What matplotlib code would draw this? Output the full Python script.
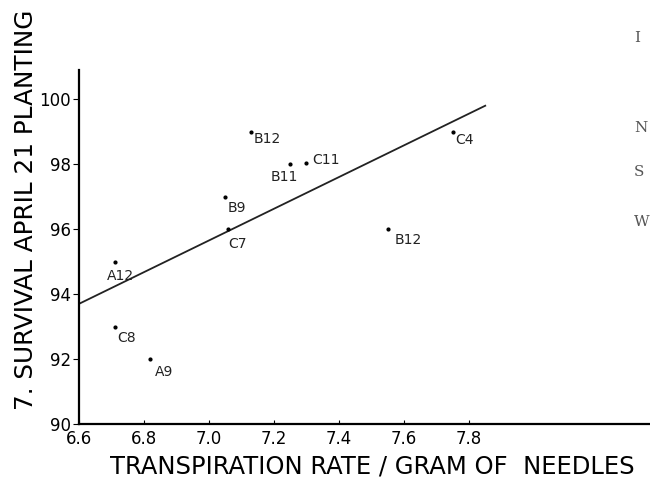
import matplotlib
import matplotlib.pyplot as plt

matplotlib.use("Agg")

# transpiration rate vs. survival, one point per lot
lots = ["B12", "B11", "C11", "B9", "C7", "A12", "C8", "A9", "C4", "B12"]
rate = [7.13, 7.25, 7.30, 7.05, 7.06, 6.71, 6.71, 6.82, 7.75, 7.55]
survival = [99.0, 98.0, 98.05, 97.0, 96.0, 95.0, 93.0, 92.0, 99.0, 96.0]

# fitted line, end points
line_rate = [6.6, 7.85]
line_survival = [93.7, 99.8]

x_ticks = [6.6, 6.8, 7.0, 7.2, 7.4, 7.6, 7.8]
y_ticks = [90, 92, 94, 96, 98, 100]

# label offsets (points) per lot, same order as above
offsets = [(2, -5), (-14, -9), (4, 2), (2, -8), (0, -11), (-6, -10),
           (2, -8), (3, -9), (2, -6), (5, -8)]

fig = plt.figure(figsize=(6.5, 4.78), dpi=100)
ax = fig.add_axes([79 / 650, 54 / 478, 571 / 650, 354 / 478])

ax.plot(line_rate, line_survival, color="#222222", lw=1.3)
ax.scatter(rate, survival, s=4, color="black", zorder=3)
for name, x, y, off in zip(lots, rate, survival, offsets):
    ax.annotate(name, (x, y), xytext=off, textcoords="offset points",
                fontsize=10, color="#222222", va="center")

ax.set_xlim(6.6, 8.357)
ax.set_ylim(90, 100.9)
ax.set_xticks(x_ticks)
ax.set_xticklabels(["6.6", "6.8", "7.0", "7.2", "7.4", "7.6", "7.8"])
ax.set_yticks(y_ticks)
ax.tick_params(axis="x", direction="in", length=3, labelsize=12, pad=4)
ax.tick_params(axis="y", direction="out", length=4, labelsize=12, pad=2)

for side in ["top", "right"]:
    ax.spines[side].set_visible(False)
for side in ["left", "bottom"]:
    ax.spines[side].set_linewidth(1.6)

ax.set_xlabel("TRANSPIRATION RATE / GRAM OF  NEEDLES", fontsize=17.5)
ax.xaxis.set_label_coords(0.513, -0.085)
ax.set_ylabel("7. SURVIVAL APRIL 21 PLANTING", fontsize=17.8)
ax.yaxis.set_label_coords(-0.072, 0.605)

# edge of the facing page in the scan
for letter, ypix in [("I", 38), ("N", 128), ("S", 172), ("W", 222)]:
    fig.text(634 / 650, 1 - ypix / 478, letter, family="DejaVu Serif",
             fontsize=11, color="#555555", va="center", ha="left")

fig.savefig("out.png", dpi=100)
